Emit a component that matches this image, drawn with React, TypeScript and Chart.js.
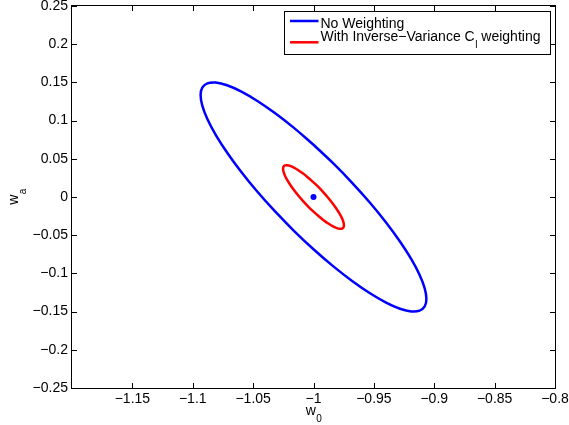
import React, { useEffect, useRef } from 'react';
import { Chart, registerables } from 'chart.js';

Chart.register(...registerables);

// ---- data ----
const blueX = [
  -1.0000, -1.0162, -1.0320, -1.0468, -1.0601, -1.0716, -1.0810, -1.0879, -1.0921, -1.0935,
  -1.0921, -1.0879, -1.0810, -1.0716, -1.0601, -1.0468, -1.0320, -1.0162, -1.0000, -0.9838,
  -0.9680, -0.9532, -0.9399, -0.9284, -0.9190, -0.9121, -0.9079, -0.9065, -0.9079, -0.9121,
  -0.9190, -0.9284, -0.9399, -0.9532, -0.9680, -0.9838, -1.0000,
];
const blueY = [
  0.0684, 0.0905, 0.1099, 0.1260, 0.1382, 0.1462, 0.1498, 0.1488, 0.1433, 0.1335,
  0.1196, 0.1021, 0.0814, 0.0583, 0.0334, 0.0075, -0.0186, -0.0442, -0.0684, -0.0905,
  -0.1099, -0.1260, -0.1382, -0.1462, -0.1498, -0.1488, -0.1433, -0.1335, -0.1196, -0.1021,
  -0.0814, -0.0583, -0.0334, -0.0075, 0.0186, 0.0442, 0.0684,
];
const redX = [
  -1.0000, -1.0044, -1.0086, -1.0126, -1.0162, -1.0193, -1.0218, -1.0237, -1.0248, -1.0252,
  -1.0248, -1.0237, -1.0218, -1.0193, -1.0162, -1.0126, -1.0086, -1.0044, -1.0000, -0.9956,
  -0.9914, -0.9874, -0.9838, -0.9807, -0.9782, -0.9763, -0.9752, -0.9748, -0.9752, -0.9763,
  -0.9782, -0.9807, -0.9838, -0.9874, -0.9914, -0.9956, -1.0000,
];
const redY = [
  0.0192, 0.0253, 0.0307, 0.0351, 0.0385, 0.0407, 0.0416, 0.0413, 0.0398, 0.0370,
  0.0331, 0.0282, 0.0224, 0.0160, 0.0091, 0.0019, -0.0054, -0.0125, -0.0192, -0.0253,
  -0.0307, -0.0351, -0.0385, -0.0407, -0.0416, -0.0413, -0.0398, -0.0370, -0.0331, -0.0282,
  -0.0224, -0.0160, -0.0091, -0.0019, 0.0054, 0.0125, 0.0192,
];
const centerX = [-1.0];
const centerY = [0.0];

const xTickValues = [-1.15, -1.1, -1.05, -1.0, -0.95, -0.9, -0.85, -0.8];
const xTickLabels = ['\u22121.15', '\u22121.1', '\u22121.05', '\u22121', '\u22120.95', '\u22120.9', '\u22120.85', '\u22120.8'];
const yTickValues = [-0.25, -0.2, -0.15, -0.1, -0.05, 0, 0.05, 0.1, 0.15, 0.2, 0.25];
const yTickLabels = ['\u22120.25', '\u22120.2', '\u22120.15', '\u22120.1', '\u22120.05', '0', '0.05', '0.1', '0.15', '0.2', '0.25'];

const legendLine1 = 'No Weighting';
const legendLine2Parts = ['With Inverse\u2212Variance C', 'l', ' weighting'];
const xTitleParts = ['w', '0'];
const yTitleParts = ['w', 'a'];

const BLUE = '#0000ff';
const RED = '#ff0000';
const FONT = '"Liberation Sans", Arial, Helvetica, sans-serif';

const pts = (xs: number[], ys: number[]) => xs.map((x, i) => ({ x, y: ys[i] }));

const decorPlugin = {
  id: 'matlabDecor',
  afterDraw(chart: any) {
    const { ctx, chartArea } = chart;
    const { left, right, top, bottom } = chartArea;
    const xs = chart.scales.x;
    const ys = chart.scales.y;
    ctx.save();
    // inward ticks on all four sides
    ctx.strokeStyle = '#000';
    ctx.lineWidth = 1;
    ctx.beginPath();
    const L = 5;
    for (const t of xs.ticks) {
      const px = Math.round(xs.getPixelForValue(t.value)) + 0.5;
      ctx.moveTo(px, bottom);
      ctx.lineTo(px, bottom - L);
      ctx.moveTo(px, top);
      ctx.lineTo(px, top + L);
    }
    for (const t of ys.ticks) {
      const py = Math.round(ys.getPixelForValue(t.value)) + 0.5;
      ctx.moveTo(left, py);
      ctx.lineTo(left + L, py);
      ctx.moveTo(right, py);
      ctx.lineTo(right - L, py);
    }
    ctx.stroke();
    // frame
    ctx.strokeRect(Math.round(left) - 0.5, Math.round(top) - 0.5, Math.round(right - left) + 1, Math.round(bottom - top) + 1);

    // axis titles
    ctx.fillStyle = '#000';
    ctx.textBaseline = 'alphabetic';
    ctx.textAlign = 'left';
    const mainFont = `14px ${FONT}`;
    const subFont = `10px ${FONT}`;
    // x title
    ctx.font = mainFont;
    const wx = ctx.measureText(xTitleParts[0]).width;
    ctx.font = subFont;
    const sx = ctx.measureText(xTitleParts[1]).width;
    const cx = (left + right) / 2;
    const x0 = cx - (wx + sx) / 2;
    ctx.font = mainFont;
    ctx.fillText(xTitleParts[0], x0, 415);
    ctx.font = subFont;
    ctx.fillText(xTitleParts[1], x0 + wx + 0.5, 422);
    // y title (rotated)
    ctx.save();
    const cy = (top + bottom) / 2;
    ctx.translate(17.5, cy);
    ctx.rotate(-Math.PI / 2);
    ctx.font = mainFont;
    const wy = ctx.measureText(yTitleParts[0]).width;
    ctx.font = subFont;
    const sy = ctx.measureText(yTitleParts[1]).width;
    const y0 = -(wy + sy) / 2;
    ctx.font = mainFont;
    ctx.fillText(yTitleParts[0], y0, 0);
    ctx.font = subFont;
    ctx.fillText(yTitleParts[1], y0 + wy + 0.5, 8.5);
    ctx.restore();

    // legend
    const bx = 284.5, by = 11.5, bw = 266, bh = 43;
    ctx.fillStyle = '#fff';
    ctx.fillRect(bx, by, bw, bh);
    ctx.strokeStyle = '#000';
    ctx.lineWidth = 1;
    ctx.strokeRect(bx, by, bw, bh);
    ctx.lineWidth = 2.5;
    ctx.strokeStyle = BLUE;
    ctx.beginPath();
    ctx.moveTo(290, 21);
    ctx.lineTo(318.5, 21);
    ctx.stroke();
    ctx.strokeStyle = RED;
    ctx.beginPath();
    ctx.moveTo(290, 42.3);
    ctx.lineTo(318.5, 42.3);
    ctx.stroke();
    ctx.fillStyle = '#000';
    ctx.font = mainFont;
    ctx.fillText(legendLine1, 320.5, 27.7);
    let tx = 320.5;
    ctx.fillText(legendLine2Parts[0], tx, 40.5);
    tx += ctx.measureText(legendLine2Parts[0]).width;
    ctx.font = subFont;
    ctx.fillText(legendLine2Parts[1], tx + 0.5, 47.5);
    tx += ctx.measureText(legendLine2Parts[1]).width + 0.5;
    ctx.font = mainFont;
    ctx.fillText(legendLine2Parts[2], tx, 40.5);
    ctx.restore();
  },
};

export default function App() {
  const ref = useRef<HTMLCanvasElement>(null);
  useEffect(() => {
    const canvas = ref.current;
    if (!canvas) return;
    const chart = new Chart(canvas, {
      type: 'scatter',
      data: {
        datasets: [
          {
            label: legendLine1,
            data: pts(blueX, blueY),
            showLine: true,
            borderColor: BLUE,
            backgroundColor: BLUE,
            borderWidth: 2.5,
            pointRadius: 0,
            tension: 0.4,
            fill: false,
          },
          {
            label: legendLine2Parts.join(''),
            data: pts(redX, redY),
            showLine: true,
            borderColor: RED,
            backgroundColor: RED,
            borderWidth: 2.5,
            pointRadius: 0,
            tension: 0.4,
            fill: false,
          },
          {
            label: 'center',
            data: pts(centerX, centerY),
            showLine: false,
            pointRadius: 3,
            pointBackgroundColor: BLUE,
            pointBorderColor: BLUE,
            pointBorderWidth: 0,
          },
        ],
      },
      options: {
        responsive: false,
        animation: false,
        events: [],
        layout: { padding: { left: 0, right: 14, top: 6, bottom: 0 } },
        plugins: { legend: { display: false }, tooltip: { enabled: false } },
        scales: {
          x: {
            type: 'linear',
            min: -1.2,
            max: -0.8,
            grid: { display: false, drawTicks: false },
            border: { display: false },
            afterBuildTicks: (s: any) => {
              s.ticks = xTickValues.map((v) => ({ value: v }));
            },
            afterFit: (s: any) => {
              s.height = 37;
              s.paddingLeft = 0;
              s.paddingRight = 0;
            },
            ticks: {
              color: '#000',
              padding: 3,
              maxRotation: 0,
              autoSkip: false,
              font: { family: FONT, size: 14 },
              callback: (_v: any, i: number) => xTickLabels[i],
            },
          },
          y: {
            type: 'linear',
            min: -0.25,
            max: 0.25,
            grid: { display: false, drawTicks: false },
            border: { display: false },
            afterBuildTicks: (s: any) => {
              s.ticks = yTickValues.map((v) => ({ value: v }));
            },
            afterFit: (s: any) => {
              s.width = 72;
              s.paddingTop = 0;
              s.paddingBottom = 0;
            },
            ticks: {
              color: '#000',
              padding: 4,
              autoSkip: false,
              font: { family: FONT, size: 14 },
              callback: (_v: any, i: number) => yTickLabels[i],
            },
          },
        },
      },
      plugins: [decorPlugin],
    });
    return () => chart.destroy();
  }, []);
  return (
    <canvas
      ref={ref}
      width={569}
      height={425}
      style={{ position: 'absolute', left: 0, top: 0, width: 569, height: 425, display: 'block' }}
    />
  );
}
